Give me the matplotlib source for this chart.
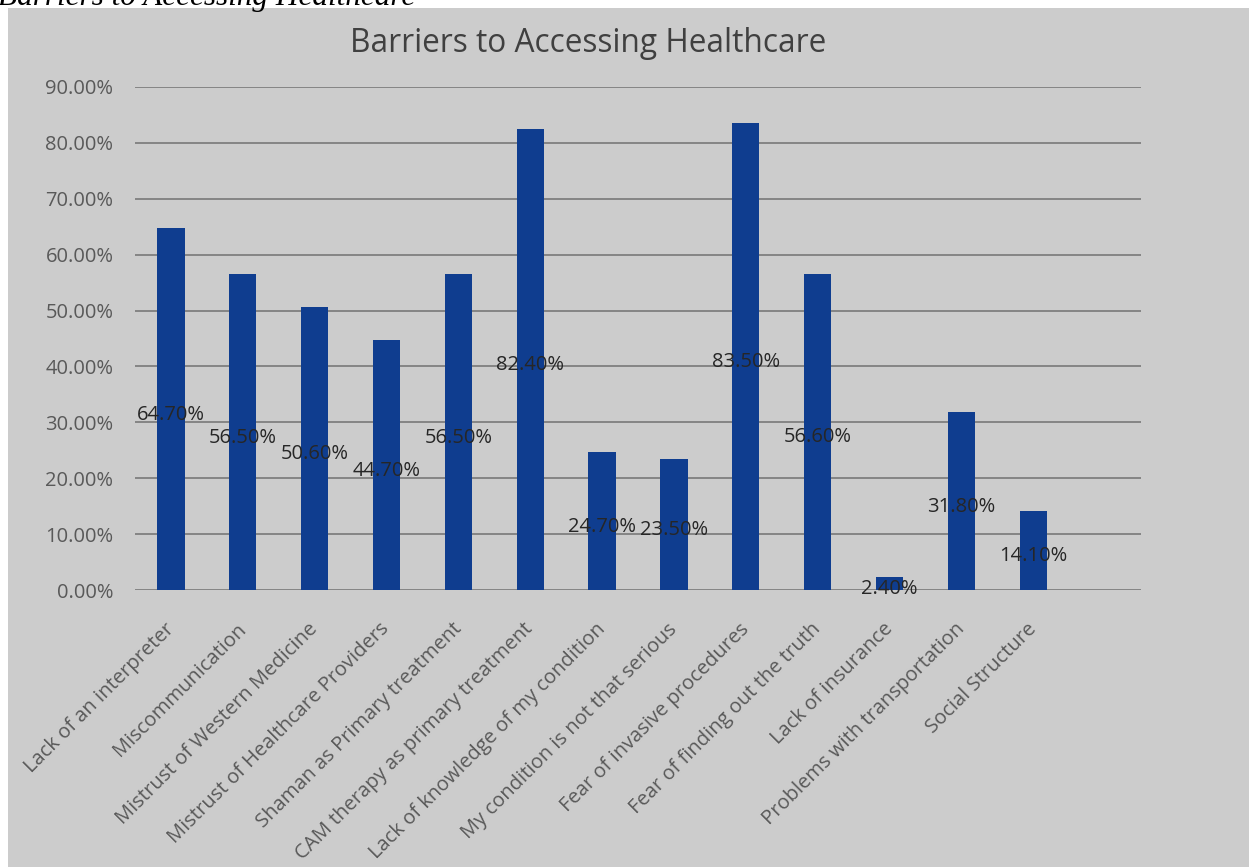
import matplotlib
matplotlib.use("Agg")
import matplotlib.pyplot as plt
from matplotlib.ticker import FuncFormatter, MultipleLocator
import numpy as np

categories = [
    "Lack of an interpreter",
    "Miscommunication",
    "Mistrust of Western Medicine",
    "Mistrust of Healthcare Providers",
    "Shaman as Primary treatment",
    "CAM therapy as primary treatment",
    "Lack of knowledge of my condition",
    "My condition is not that serious",
    "Fear of invasive procedures",
    "Fear of finding out the truth",
    "Lack of insurance",
    "Problems with transportation",
    "Social Structure",
]
values = [64.7, 56.5, 50.6, 44.7, 56.5, 82.4, 24.7, 23.5, 83.5, 56.6, 2.4, 31.8, 14.1]
title = "Barriers to Accessing Healthcare"

plt.rcParams['font.family'] = ['Open Sans', 'DejaVu Sans']

W, H = 1249, 867
fig = plt.figure(figsize=(W / 100, H / 100), dpi=100)
fig.patch.set_facecolor('white')

# grey chart background (starts at 8px from left/top)
bgax = fig.add_axes([8 / W, 0, 1 - 8 / W, 1 - 8 / H], zorder=-10)
bgax.set_facecolor('#cccccc')
bgax.set_xticks([])
bgax.set_yticks([])
for s in bgax.spines.values():
    s.set_visible(False)

# cut-off caption above the chart
fig.text(-2 / W, 1 - 5 / H, title, transform=fig.transFigure, fontsize=22.5,
         family=['Liberation Serif'], style='italic', color='black',
         ha='left', va='baseline', zorder=1)

left, right = 135 / W, 1141 / W
bottom, top = 1 - 590 / H, 1 - 87 / H
ax = fig.add_axes([left, bottom, right - left, top - bottom], zorder=1)
ax.set_facecolor('none')

x = np.arange(len(categories))
ax.bar(x, values, width=0.38, color='#0f3d8f', zorder=3)
ax.set_xlim(-0.5, len(categories) + 0.5)
ax.set_ylim(0, 90)
ax.yaxis.set_major_locator(MultipleLocator(10))
ax.yaxis.set_major_formatter(FuncFormatter(lambda v, p: f"{v:.2f}%"))
ax.grid(axis='y', color='#858585', linewidth=1.4, zorder=1)
ax.set_axisbelow(True)
for s in ax.spines.values():
    s.set_visible(False)
ax.tick_params(axis='y', length=0, pad=15.5, labelsize=14.5, labelcolor='#595959')
ax.tick_params(axis='x', length=0)
ax.set_xticks(x)
ax.set_xticklabels([])

for xi, v, c in zip(x, values, categories):
    ax.annotate(f"{v:.2f}%", xy=(xi, v / 2), xycoords='data', xytext=(0, -4),
                textcoords='offset points', ha='center', va='center',
                fontsize=14.5, color='#262626', zorder=4)
    ax.annotate(c, xy=(xi, 0), xycoords='data', xytext=(-5, -21),
                textcoords='offset points', rotation=45, rotation_mode='anchor',
                ha='right', va='top', fontsize=14.5, color='#595959')

fig.text(588 / W, 1 - 44 / H, title, ha='center', va='center', fontsize=22.8,
         color='#404040')

fig.savefig('out.png', dpi=100)
